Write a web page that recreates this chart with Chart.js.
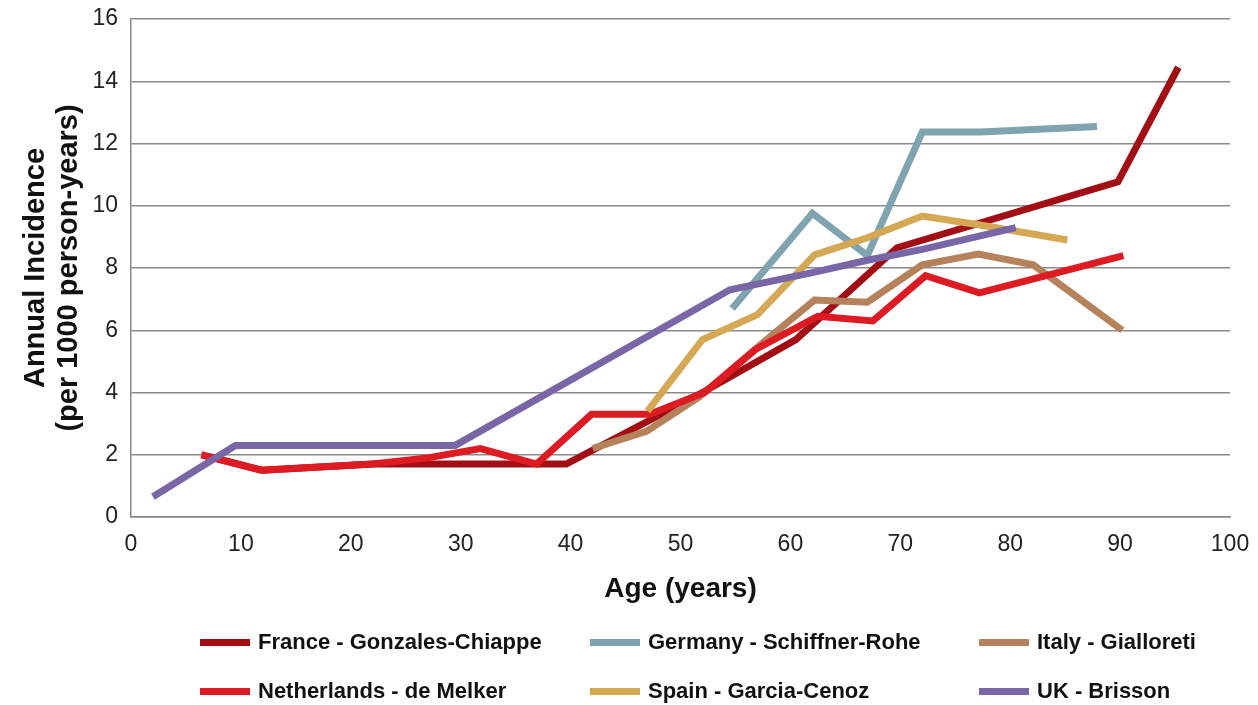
<!DOCTYPE html>
<html>
<head>
<meta charset="utf-8">
<script src="https://cdn.jsdelivr.net/npm/chart.js@4/dist/chart.umd.min.js"></script>
<style>
  html, body { margin: 0; padding: 0; background: #fff; }
  #wrap { position: relative; width: 1258px; height: 705px; }
  #chart { position: absolute; left: 0; top: 0; }
  .lg { position: absolute; display: flex; align-items: center; height: 26px; font: bold 22px "Liberation Sans", Arial, sans-serif; color: #111; white-space: nowrap; }
  .lg span.sw { display: inline-block; width: 50px; height: 7px; margin-right: 8px; }
</style>
</head>
<body>
<div id="wrap">
  <canvas id="chart" width="1258" height="705"></canvas>
  <div id="legend"></div>
</div>
<script>
// series labels, in the order of the source legend
const seriesNames = ["France - Gonzales-Chiappe", "Germany - Schiffner-Rohe", "Italy - Gialloreti",
  "Netherlands - de Melker", "Spain - Garcia-Cenoz", "UK - Brisson"];
const seriesColors = ["#A30E15", "#7FA3AF", "#B5825C", "#DE1A22", "#D5A853", "#7866A6"];

// age (years) and incidence per 1000 person-years
const franceAge = [7, 12, 22, 39.6, 52, 60.5, 69.7, 89.8, 95.3];
const franceVal = [1.95, 1.5, 1.7, 1.7, 4.0, 5.7, 8.65, 10.77, 14.45];
const germanyAge = [54.7, 62, 67, 72, 77.3, 87.9];
const germanyVal = [6.7, 9.76, 8.4, 12.37, 12.37, 12.55];
const italyAge = [42, 46.9, 51.7, 57.5, 62.2, 67, 72, 77.1, 82.1, 90.2];
const italyVal = [2.2, 2.75, 3.86, 5.6, 6.97, 6.9, 8.1, 8.45, 8.1, 6.0];
const nlAge = [6.4, 11.8, 22, 27, 31.8, 36.9, 41.9, 47.2, 52.2, 56.9, 62.5, 67.5, 72.3, 77.2, 90.3];
const nlVal = [2.0, 1.5, 1.7, 1.9, 2.2, 1.7, 3.3, 3.3, 4.0, 5.4, 6.45, 6.3, 7.75, 7.2, 8.4];
const spainAge = [47, 52, 57, 62.2, 67, 72, 77, 85.2];
const spainVal = [3.4, 5.7, 6.5, 8.42, 8.97, 9.67, 9.4, 8.9];
const ukAge = [2, 9.5, 29.5, 54.5, 62, 67, 72, 80.5];
const ukVal = [0.65, 2.3, 2.3, 7.3, 7.85, 8.25, 8.6, 9.3];

const xTicks = [0, 10, 20, 30, 40, 50, 60, 70, 80, 90, 100];
const yTicks = [0, 2, 4, 6, 8, 10, 12, 14, 16];

const allAges = [franceAge, germanyAge, italyAge, nlAge, spainAge, ukAge];
const allVals = [franceVal, germanyVal, italyVal, nlVal, spainVal, ukVal];

const datasets = seriesNames.map(function (name, i) {
  return {
    label: name,
    data: allAges[i].map(function (a, j) { return { x: a, y: allVals[i][j] }; }),
    borderColor: seriesColors[i],
    backgroundColor: seriesColors[i],
    borderWidth: 7,
    borderCapStyle: "butt",
    borderJoinStyle: "miter",
    pointRadius: 0,
    tension: 0,
    fill: false,
    order: 6 - i // later series drawn on top, like the source
  };
});

const fam = "'Liberation Sans', Arial, sans-serif";
const tickFont = { family: fam, size: 23 };

new Chart(document.getElementById("chart"), {
  type: "line",
  data: { datasets: datasets },
  options: {
    responsive: false,
    animation: false,
    layout: { padding: { top: 19, right: 28, left: 0, bottom: 95 } },
    plugins: { legend: { display: false }, tooltip: { enabled: false } },
    scales: {
      x: {
        type: "linear",
        min: 0, max: 100,
        afterBuildTicks: function (s) { s.ticks = xTicks.map(function (v) { return { value: v }; }); },
        afterFit: function (s) { s.height = 93; s.paddingLeft = 0; s.paddingRight = 0; },
        grid: { display: false, drawTicks: false },
        border: { color: "#888", width: 1.5 },
        ticks: { color: "#222", font: tickFont, padding: 14, maxRotation: 0 },
        title: { display: true, text: "Age (years)", color: "#111", font: { family: fam, size: 28, weight: "bold" } }
      },
      y: {
        min: 0, max: 16,
        afterBuildTicks: function (s) { s.ticks = yTicks.map(function (v) { return { value: v }; }); },
        afterFit: function (s) { s.width = 131; s.paddingTop = 0; s.paddingBottom = 0; },
        grid: { color: "#8a8a8a", lineWidth: 1.5, drawTicks: false },
        border: { color: "#888", width: 1.5 },
        ticks: { color: "#222", font: tickFont, padding: 13 },
        title: { display: true, text: ["Annual Incidence", "(per 1000 person-years)"], color: "#111",
          font: { family: fam, size: 29, weight: "bold", lineHeight: 1.14 }, padding: { top: 19, bottom: 0 } }
      }
    }
  }
});

// two-row legend with aligned columns, as in the source
const legendPos = [[200, 642], [590, 642], [979, 642], [200, 691], [590, 691], [979, 691]];
const legendEl = document.getElementById("legend");
seriesNames.forEach(function (name, i) {
  const d = document.createElement("div");
  d.className = "lg";
  d.style.left = legendPos[i][0] + "px";
  d.style.top = (legendPos[i][1] - 13) + "px";
  d.innerHTML = '<span class="sw" style="background:' + seriesColors[i] + '"></span>' + name;
  legendEl.appendChild(d);
});
</script>
</body>
</html>
